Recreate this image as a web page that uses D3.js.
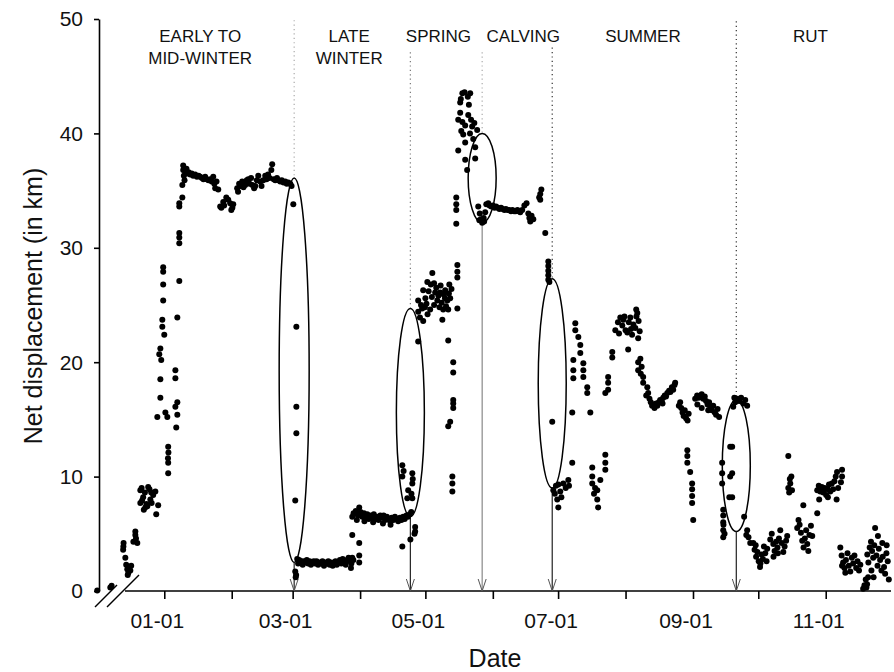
<!DOCTYPE html>
<html><head><meta charset="utf-8">
<script src="https://cdn.jsdelivr.net/npm/d3@7"></script>
<style>
body{margin:0;background:#fff;}
text{font-family:"Liberation Sans",Arial,sans-serif;fill:#111;}
</style></head><body>
<svg id="chart" width="894" height="672"></svg>
<script>
// ---- DATA: [day offset from 01-01, net displacement km] ----
const earlyMidWinter = [
[-30.8,0.05],[-24.8,0.3],[-24.2,0.45],
[-18.8,3.9],[-18.7,4.2],[-18.9,3.6],[-17.9,2.9],[-17.5,2.3],[-17.0,1.9],[-16.5,1.6],[-16.0,2.1],[-15.6,1.8],[-15.2,2.2],[-16.8,1.4],
[-14.2,4.3],[-13.3,4.9],[-13.3,5.2],[-12.4,4.2],[-13.0,4.6],
[-11.0,8.8],[-10.4,9.0],[-7.4,9.1],[-6.8,8.9],[-4.1,8.7],[-11.0,7.7],[-10.2,7.9],[-8.7,7.3],[-8.2,7.6],[-6.4,8.0],[-5.8,7.7],[-2.8,7.5],[-3.7,6.7],[-9.7,8.2],[-5.1,8.4],[-9.4,7.1],[-7.8,7.4],[-6.0,8.6],[-8.9,8.6],
[1.8,12.6],[1.9,12.1],[1.7,11.6],[1.8,11.2],[1.8,10.3],
[-3.2,15.2],[0.5,15.6],[1.4,15.2],[6.0,15.4],[5.5,14.3],[6.0,16.5],[5.1,16.1],
[-1.8,16.9],[-1.8,18.5],[5.1,19.3],[5.1,18.6],
[-1.8,21.2],[-2.3,20.7],[-1.4,20.2],
[-0.9,23.7],[-0.9,23.1],[0,22.4],[6.0,23.9],
[-0.5,25.4],[-0.5,26.8],[-0.5,27.9],[-0.5,28.3],
[6.9,27.1],[6.9,30.4],[6.9,30.9],[6.9,31.3],[6.9,33.6],[6.9,33.9],[8.3,34.4],[8.3,35.5],
[8.7,37.2],[8.7,36.8],[9.0,36.3],[9.3,35.9],[9.7,36.6],[10.2,36.9],[10.6,36.5],[11.2,36.6],[11.9,36.4],[12.6,36.5],[13.3,36.3],[14.2,36.4],[15.0,36.2],[15.8,36.3],[16.5,36.2],[17.3,36.1],[18.0,36.0],[18.8,36.2],[19.5,36.0],[20.3,35.9],[21.1,36.0],[21.8,35.8],[22.5,36.2],[23.0,35.6],[23.4,35.2],[24.0,35.8],[24.8,35.1],
[25.7,33.6],[26.2,33.5],[27.1,34.0],[27.5,33.7],[28.5,34.4],[29.4,34.2],[30.3,33.9],[31.3,33.5],[31.7,33.8],[30.8,33.3],
[33.5,35.2],[33.9,34.9],[34.4,35.6],[35.0,35.4],[35.8,35.8],[36.4,35.3],[37.2,35.5],[37.9,35.9],[38.6,36.0],[39.2,35.6],[39.9,36.1],[40.5,35.5],[41.3,35.2],[41.8,35.4],[42.5,35.9],[43.2,36.3],[44.1,35.8],[44.7,35.4],[45.5,35.9],[46.4,36.3],[47.0,36.0],[47.7,36.4],[48.4,36.1],[49.6,37.3],[49.2,36.8],[50.3,36.0],[51.0,35.9],[51.8,36.1],[52.5,35.9],[53.3,35.8],[54.0,35.9],[54.8,35.7],[55.6,35.8],[56.3,35.6],[57.0,35.7],[57.9,35.6],[58.5,35.4],[59.3,33.8]
];
const lateWinter = [
[60.7,23.1],[60.7,16.1],[60.7,13.8],[60.2,7.9],
[60.2,1.7],[60.4,1.2],[60.6,1.4],[61.1,2.8],[61.5,2.4],[62.0,2.7],[62.5,2.5],[63.0,2.6],[63.6,2.3],[64.2,2.6],[64.8,2.5],[65.5,2.7],[66.1,2.4],[66.8,2.6],[67.4,2.3],[68.0,2.5],[68.7,2.6],[69.4,2.4],[70.0,2.6],[70.7,2.3],[71.4,2.5],[72.0,2.4],[72.7,2.6],[73.4,2.2],[74.0,2.5],[74.7,2.4],[75.4,2.6],[76.0,2.3],[76.7,2.5],[77.4,2.2],[78.0,2.5],[78.7,2.6],[79.3,2.3],[80.0,2.5],[80.7,2.7],[81.4,2.4],[82.0,2.8],[82.7,2.5],[83.4,2.3],[84.0,2.7],[84.7,2.9],[85.4,2.6],[86.0,2.4],[86.4,2.9],[85.8,2.0],[86.9,2.7],
[86.4,4.9],[89.6,4.2],[89.6,3.1],[89.6,2.5],
[86.4,6.5],[87.0,6.8],[88.0,7.0],[89.0,6.6],[89.6,7.3],[90.2,6.9],[91.0,6.5],[91.8,6.8],[92.5,6.4],[93.3,6.7],[94.0,6.3],[94.8,6.6],[95.5,6.4],[96.3,6.7],[97.0,6.3],[97.8,6.5],[98.5,6.2],[99.3,6.6],[100.0,6.4],[100.8,6.6],[101.5,6.2],[102.3,6.5],[103.0,6.3],[103.8,6.1],[104.5,6.4],[105.3,6.2],[106.0,6.5],[106.8,6.3],[107.5,6.1],[108.3,6.4],[109.0,6.2],[109.8,6.5],[110.5,6.3],[111.3,6.6],[112.0,6.5],[112.8,6.7],[113.5,6.9],[88.5,6.2],[92.0,6.1],[96.0,6.0],[100.5,5.9],[104.0,5.8],
[109.4,3.9],[113.1,4.5],[115.3,5.2],[115.3,5.6],[115.0,5.0]
];
const spring = [
[109.4,11.0],[109.4,10.0],[114.0,10.3],[114.0,9.4],[112.1,8.8],[114.0,8.1],[111.7,8.1],[113.6,8.5],[110.0,10.5],[114.2,9.8],
[116.7,21.8],
[123.2,27.8],[120.9,27.0],[119.0,26.3],[116.7,25.4],[116.7,24.4],[119.0,23.6],[122.2,24.6],[125.5,25.4],[126.8,26.1],[129.1,26.3],[130.1,25.4],[127.8,23.7],[128.2,24.6],[131.4,25.6],[124.5,26.1],[118.0,25.0],[120.0,25.6],[121.5,26.2],[123.0,25.7],[124.0,25.0],[125.0,26.5],[126.0,25.8],[127.5,25.2],[128.5,25.9],[129.5,24.9],[130.8,26.0],[132.0,26.4],[117.5,23.9],[121.0,24.2],
[118.5,24.7],[120.5,25.1],[122.5,26.8],[124.0,26.9],[126.5,24.8],[127.0,26.7],[129.0,25.6],[130.5,24.6],[131.0,26.8],[119.8,24.8],
[134.7,27.4],[134.7,27.9],[134.7,28.5],[134.7,24.7],[130.5,21.9],[132.8,20.0],[132.8,19.1],[132.8,16.0],[132.8,16.4],[132.8,16.7],[131.4,14.8],[130.5,14.4],[132.4,10.0],[132.4,9.4],[132.4,8.7],
[134.2,33.3],[134.2,33.8],[134.2,34.4],[134.2,32.1],
[137.0,43.5],[140.6,43.5],[138.0,43.6],[139.5,43.2],[136.0,42.7],[136.0,41.8],[139.7,41.6],[135.1,41.2],[138.3,40.7],[141.5,40.6],[143.8,40.3],[137.4,39.9],[138.3,39.2],[135.1,38.5],[138.3,37.7],[142.9,38.8],[142.9,37.8],[139.2,36.8],[136.5,40.2],[140.5,40.0],[142.0,39.5],[137.0,41.0],[141.0,41.2],[136.3,43.0],[140.0,42.5],[142.5,40.9]
];
const calving = [
[144.3,33.6],[145.0,33.0],[145.5,32.5],[146.1,32.2],[146.8,32.6],[147.5,33.1],[148.0,33.8],[144.8,32.4],[147.0,32.3],[148.9,33.9],[149.5,33.7],[150.3,33.6],[151.0,33.7],[151.8,33.5],[152.5,33.6],[153.3,33.5],[154.0,33.4],[154.8,33.5],[155.5,33.4],[156.3,33.3],[157.0,33.4],[157.8,33.3],[158.5,33.3],[159.3,33.2],[160.0,33.3],[160.8,33.2],[161.5,33.2],[162.3,33.3],[163.0,33.2],[163.6,33.1],[164.5,33.3],[165.5,33.7],[166.5,33.9],[167.3,33.0],[167.8,32.6],[168.2,32.3],[168.8,32.8],[169.6,32.5],[172.8,34.2],[172.8,34.7],[173.3,35.1],[172.3,34.4],[175.1,31.3],[176.5,27.2],[176.5,27.6],[176.5,28.0],[176.5,28.4],[176.5,28.8],[177.0,27.0]
];
const summer = [
[178.3,14.8],
[178.8,8.8],[181.1,9.3],[183.4,9.4],[185.7,9.7],[180.6,8.0],[181.1,7.3],[179.5,8.5],[182.0,8.7],[184.5,9.0],[186.0,9.2],[180.0,9.2],[182.5,8.2],
[187.5,11.2],
[188.9,22.8],[188.9,23.4],[190.3,22.2],[191.2,20.8],[191.2,21.5],
[188.0,20.2],[188.0,19.3],[188.0,18.6],[192.6,18.7],[192.6,19.3],[192.6,19.9],[194.4,17.3],[194.4,17.8],[187.5,15.6],[195.8,15.6],
[196.7,9.4],[196.7,10.0],[196.7,10.8],[199.0,8.0],[199.0,8.8],[200.4,9.7],[199.4,7.3],[198.0,9.0],[197.5,8.5],
[202.7,10.6],[202.7,11.2],[202.7,11.9],
[205.9,20.4],[205.9,20.9],[204.0,17.6],[204.0,18.2],[204.0,18.7],[202.7,17.3],
[209.6,23.9],[207.3,22.8],[214.2,23.9],[217.4,24.3],[216.9,24.6],[212.8,22.6],[213.2,21.1],[217.8,22.1],[215.6,23.3],[208.5,23.5],[210.5,23.2],[211.5,24.0],[212.0,22.8],[213.5,23.5],[215.0,22.4],[216.5,23.0],[218.0,23.6],[218.5,22.7],[209.0,22.5],[211.0,23.7],[214.5,22.9],[217.0,24.0],
[217.8,19.3],[217.8,20.0],[218.8,20.3],[219.4,19.6],[220.1,18.2],[220.1,18.7],[219.0,19.0],
[222.4,17.3],[223.0,16.8],[223.6,16.5],[224.2,16.2],[224.7,16.3],[225.3,16.0],[226.0,16.4],[226.6,16.2],[227.3,16.5],[227.9,16.7],[228.6,16.6],[229.3,16.9],[230.0,17.1],[230.6,17.0],[231.2,17.3],[232.0,17.5],[232.6,17.4],[233.3,17.8],[233.9,17.6],[234.5,18.0],[234.8,18.2],[222.0,17.8],[221.5,17.1],[229.0,16.4],
[237.1,16.5],[237.6,16.0],[238.2,15.6],[238.7,15.3],[239.2,15.8],[239.8,15.1],[240.5,14.9],[241.0,15.5],[236.5,16.2],
[244.0,16.8],[244.9,17.1],[245.6,16.9],[246.3,17.0],[247.0,17.2],[247.7,16.8],[248.4,17.0],[249.0,16.6],[249.7,16.3],[250.4,16.5],[251.0,16.1],[251.7,15.8],[252.3,16.2],[253.0,15.6],[253.6,15.4],[254.3,15.9],[255.0,15.2],[245.0,16.3],[247.0,16.0],[250.0,15.8],
[240.4,11.2],[240.4,11.8],[240.4,12.3],[241.7,10.4],[242.6,7.7],[242.6,8.3],[242.6,8.9],[242.6,9.4],[243.1,6.2],
[256.4,9.4],[256.4,10.3],[256.4,11.2],[260.1,12.6],[260.1,10.0],[259.7,8.2],[256.9,4.7],[256.9,5.3],[256.9,6.0],[256.9,6.6],[256.9,7.1],[257.5,5.0],[257.0,5.8],
[261.0,12.6],[261.0,10.3],[261.0,8.2]
];
const rut = [
[261.5,16.1],[262.4,16.5],[263.3,16.8],[264.2,16.6],[265.1,16.9],[266.1,16.4],[267.0,16.7],[267.9,16.2],[262.0,16.9],
[266.5,6.5],[267.9,5.3],[268.5,4.7],[269.3,4.2],[267.5,4.9],
[270.7,4.2],[271.3,3.6],[272.0,3.0],[272.6,3.4],[273.2,2.6],[273.8,2.1],[274.5,3.2],[275.1,2.8],[275.6,3.9],[276.2,3.3],[276.8,2.6],[277.1,3.7],[271.8,4.0],[274.0,2.4],
[278.5,4.5],[279.2,5.0],[279.9,4.1],[280.5,3.5],[281.2,4.3],[281.8,3.8],[282.5,4.6],[283.1,5.3],[283.8,4.2],[284.5,3.4],[285.1,3.9],[285.8,4.4],[286.3,4.8],[280.0,3.0],[282.0,3.3],
[286.8,11.8],[286.8,9.0],[287.2,8.6],[287.7,9.4],[288.2,10.0],[287.5,9.8],[288.5,8.8],
[290.9,5.5],[291.5,6.2],[292.0,5.8],[292.6,5.1],[293.2,4.4],[293.8,3.8],[294.4,4.6],[295.0,5.3],[295.5,4.1],[296.0,3.5],[296.5,4.9],[297.2,5.7],[297.8,4.8],[293.7,7.5],[300.1,6.8],
[300.1,8.8],[300.8,9.2],[301.5,8.7],[302.2,9.1],[302.9,8.6],[303.5,9.0],[304.2,8.4],[304.9,8.9],[305.5,9.3],[306.1,8.7],[306.8,9.4],[307.4,8.9],[308.0,9.6],[308.6,10.0],[309.2,10.4],[309.7,9.0],[301.0,8.0],[305.0,8.2],[309.0,8.0],[311.5,10.6],[311.5,10.0],[311.0,9.5],
[310.7,3.8],[311.3,3.1],[312.0,2.5],[312.6,2.0],[313.3,2.7],[314.0,3.3],[314.6,2.2],[315.3,1.7],[316.0,2.9],[316.6,2.4],[317.2,3.1],[318.0,2.0],[318.6,2.6],[319.3,1.8],[319.9,2.3],[311.5,2.2],[313.0,1.6],
[321.2,0.2],[321.8,0.5],[322.4,1.0],[323.0,0.6],[323.5,1.2],[322.7,0.3],
[323.1,3.2],[323.6,2.5],[324.2,3.8],[324.8,4.3],[325.3,3.5],[325.8,2.9],[326.3,4.0],[326.7,5.5],[327.3,3.1],[327.8,2.2],[328.4,3.7],[329.0,2.7],[329.6,1.8],[330.2,3.0],[330.8,2.1],[331.3,1.5],[331.9,3.3],[332.5,2.6],[333.0,1.0],[325.0,1.8],[326.0,1.2],[328.0,4.8],[330.0,4.2],[332.0,4.0]
];

// season labels and day positions
const seasonNames = [["EARLY TO","MID-WINTER"],["LATE","WINTER"],["SPRING"],["CALVING"],["SUMMER"],["RUT"]];
const seasonLabelDays = [16.5, 85, 126, 165, 220, 297];

// transition annotations (day, ellipse top/bottom km, dotted line top km)
const transitionDays = [59.7, 113.1, 146.1, 178.3, 262.9];
const ellipseTopKm = [36.1, 24.7, 40.0, 27.3, 16.7];
const ellipseBottomKm = [2.5, 6.5, 32.2, 9.0, 5.2];
const dottedTopKm = [49.9, 47.1, 47.1, 47.5, 49.8];
const dottedColors = ["#aaa","#777","#aaa","#333","#333"];
const arrowColors = ["#222","#222","#888","#222","#222"];

const xTickMonths = d3.range(0, 11).map(m => new Date(Date.UTC(2005, m, 1)));
const yTicks = [0, 10, 20, 30, 40, 50];

// ---- CHART ----
const svg = d3.select("#chart");
const base = Date.UTC(2005, 0, 1);
const toDate = d => new Date(base + d * 864e5);
const x = d3.scaleUtc().domain([new Date(Date.UTC(2004, 11, 2)), new Date(Date.UTC(2005, 11, 1))]).range([99, 891]);
const y = d3.scaleLinear().domain([0, 50]).range([591, 19]);

// y axis
const yAx = svg.append("g").attr("transform", `translate(${x.range()[0]},0)`)
  .call(d3.axisLeft(y).tickValues(yTicks).tickSize(5).tickSizeOuter(0));
yAx.select(".domain").attr("stroke", "#000").attr("stroke-width", 1.6);
yAx.selectAll(".tick line").attr("stroke", "#000").attr("stroke-width", 1.6);
yAx.selectAll(".tick text").attr("x", -16).attr("dy", "0.33em")
  .style("font-size", "21px").style("font-family", "'Liberation Sans',Arial,sans-serif").attr("fill", "#111");

// x axis
const xAx = svg.append("g").attr("transform", `translate(0,${y(0)})`)
  .call(d3.axisBottom(x).tickValues(xTickMonths).tickSize(8)
    .tickFormat(d => d.getUTCMonth() % 2 === 0 ? d3.utcFormat("%m-%d")(d) : ""));
xAx.select(".domain").remove();
xAx.selectAll(".tick line").attr("stroke", "#000").attr("stroke-width", 1.6);
xAx.selectAll(".tick text").attr("x", -7.5).attr("y", 37).attr("dy", 0)
  .style("font-size", "21px").style("font-family", "'Liberation Sans',Arial,sans-serif").attr("fill", "#111");
const x0 = x.range()[0];
svg.append("line").attr("x1", x0 + 26).attr("x2", x.range()[1]).attr("y1", y(0)).attr("y2", y(0))
  .attr("stroke", "#000").attr("stroke-width", 1.6);
// axis break marks
svg.append("line").attr("x1", x0 - 4).attr("y1", y(0) + 16).attr("x2", x0 + 18).attr("y2", y(0) - 6).attr("stroke", "#000").attr("stroke-width", 1.4);
svg.append("line").attr("x1", x0 + 8).attr("y1", y(0) + 16).attr("x2", x0 + 40).attr("y2", y(0) - 16).attr("stroke", "#000").attr("stroke-width", 1.4);

// axis titles
svg.append("text").attr("x", 495).attr("y", 667).attr("text-anchor", "middle")
  .style("font-size", "25px").text("Date");
svg.append("text").attr("transform", "translate(42,306) rotate(-90)").attr("text-anchor", "middle")
  .style("font-size", "25px").text("Net displacement (in km)");

// season labels
seasonNames.forEach((lines, i) => {
  const t = svg.append("text").attr("text-anchor", "middle").style("font-size", "17px").attr("fill", "#222");
  lines.forEach((ln, j) => {
    t.append("tspan").attr("x", x(toDate(seasonLabelDays[i]))).attr("y", y(50) + 23 + j * 22).text(ln);
  });
});

// transition annotations
const ann = svg.append("g");
transitionDays.forEach((d, i) => {
  const cx = x(toDate(d));
  const top = y(ellipseTopKm[i]), bot = y(ellipseBottomKm[i]);
  ann.append("line").attr("x1", cx).attr("x2", cx).attr("y1", y(dottedTopKm[i])).attr("y2", top)
    .attr("stroke", dottedColors[i]).attr("stroke-width", 1.2).attr("stroke-dasharray", "1.2,3.2");
  ann.append("ellipse").attr("cx", cx).attr("cy", (top + bot) / 2).attr("rx", i === 0 ? 15 : 14).attr("ry", (bot - top) / 2)
    .attr("fill", "none").attr("stroke", "#000").attr("stroke-width", 1.5);
  ann.append("line").attr("x1", cx).attr("x2", cx).attr("y1", bot).attr("y2", y(0))
    .attr("stroke", arrowColors[i]).attr("stroke-width", 1.2);
  ann.append("path").attr("d", `M${cx - 4},${y(0) - 12}L${cx},${y(0)}L${cx + 4},${y(0) - 12}`)
    .attr("fill", "none").attr("stroke", "#555").attr("stroke-width", 1);
});

// points
const all = [].concat(earlyMidWinter, lateWinter, spring, calving, summer, rut);
svg.append("g").selectAll("circle").data(all).join("circle")
  .attr("cx", d => x(toDate(d[0]))).attr("cy", d => y(d[1])).attr("r", 3).attr("fill", "#000");
</script>
</body></html>
